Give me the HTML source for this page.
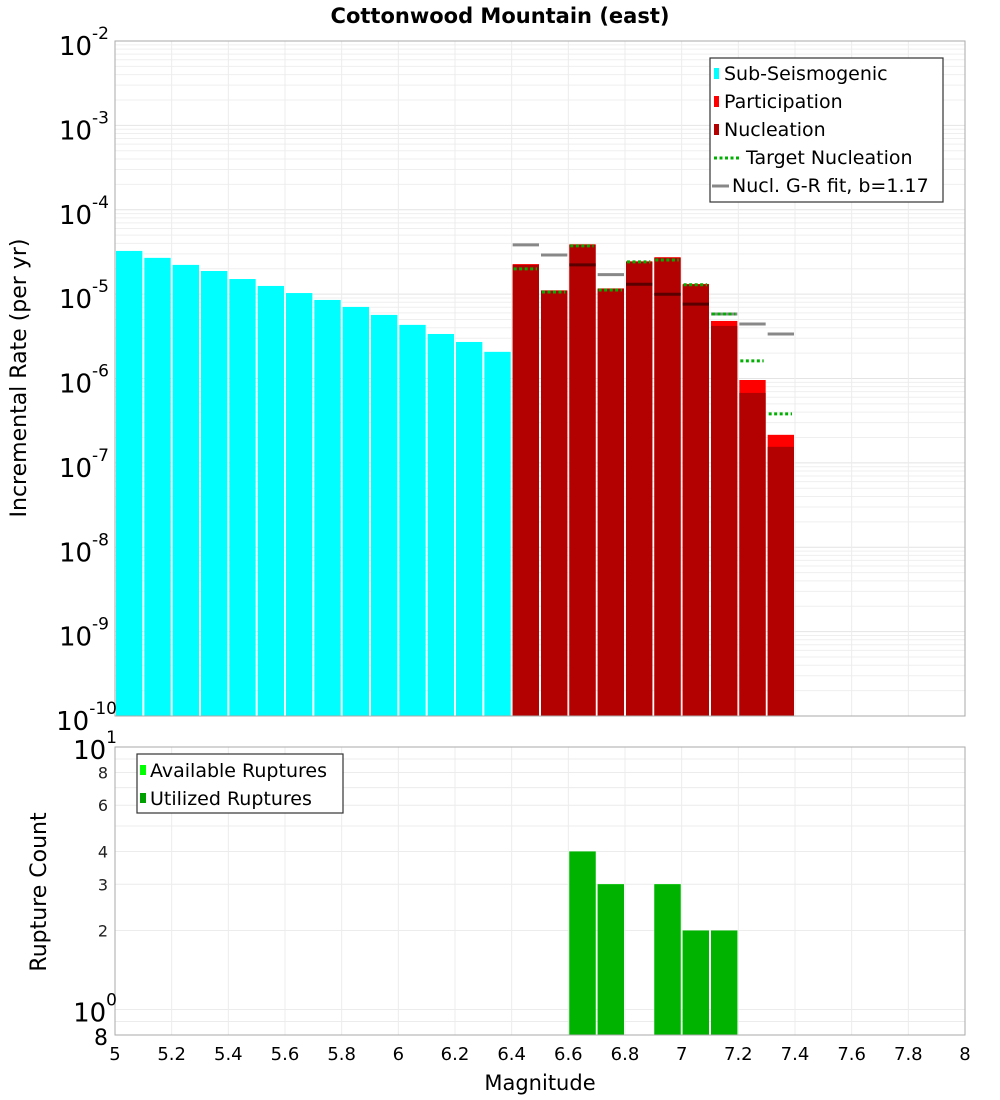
<!DOCTYPE html>
<html><head><meta charset="utf-8"><style>
body{margin:0;background:#fff;font-family:"Liberation Sans","DejaVu Sans",sans-serif;}
svg{display:block}
text{font-family:"DejaVu Sans","Liberation Sans",sans-serif;}
</style></head><body>
<svg id="c" width="1000" height="1100"></svg>
<script>
const mags=[5.0,5.1,5.2,5.3,5.4,5.5,5.6,5.7,5.8,5.9,6.0,6.1,6.2,6.3];
const subSeis=[3.25e-5,2.69e-5,2.22e-5,1.88e-5,1.51e-5,1.25e-5,1.03e-5,8.53e-6,7.05e-6,5.67e-6,4.32e-6,3.37e-6,2.71e-6,2.07e-6];
const faultMags=[6.4,6.5,6.6,6.7,6.8,6.9,7.0,7.1,7.2,7.3];
const participation=[2.27e-5,1.11e-5,3.9e-5,1.17e-5,2.45e-5,2.74e-5,1.32e-5,4.81e-6,9.6e-7,2.15e-7];
const nucleation=[2.22e-5,1.09e-5,3.83e-5,1.15e-5,2.41e-5,2.69e-5,1.29e-5,4.2e-6,6.75e-7,1.55e-7];
const targetNucl=[1.99e-5,1.06e-5,3.73e-5,1.12e-5,2.41e-5,2.54e-5,1.29e-5,5.82e-6,1.62e-6,3.81e-7];
const grFit=[3.83e-5,2.91e-5,2.22e-5,1.70e-5,1.31e-5,9.97e-6,7.6e-6,5.82e-6,4.43e-6,3.37e-6];
const countMags=[6.6,6.7,6.9,7.0,7.1];
const availCounts=[4,3,3,2,2];
const usedCounts=[4,3,3,2,2];
const xTicks=[5,5.2,5.4,5.6,5.8,6,6.2,6.4,6.6,6.8,7,7.2,7.4,7.6,7.8,8];
const xTickLabels=["5","5.2","5.4","5.6","5.8","6","6.2","6.4","6.6","6.8","7","7.2","7.4","7.6","7.8","8"];
const yDecades=[-2,-3,-4,-5,-6,-7,-8,-9,-10];
const countTicks=[2,3,4,6,8];

const NS="http://www.w3.org/2000/svg";
const svg=document.getElementById('c');
function el(tag,attrs,parent){const e=document.createElementNS(NS,tag);for(const k in attrs)e.setAttribute(k,attrs[k]);(parent||svg).appendChild(e);return e;}
const L=115,R=965,T=41,B=716,T2=747,B2=1035;
const X=m=>L+(m-5)/3*(R-L);
const Y=v=>T+(-2-Math.log10(v))*(B-T)/8;
const dec2=262.5;
const Y2=v=>T2+(1-Math.log10(v))*dec2;

// grids top
for(let d=-10;d<-2;d++){for(let k=1;k<10;k++){const y=Y(k*Math.pow(10,d));const g=el('line',{x1:L,x2:R,y1:y,y2:y,stroke:k==1?'#e4e4e4':'#efefef','stroke-width':1});

}}
xTicks.forEach(m=>{const g=el('line',{x1:X(m),x2:X(m),y1:T,y2:B,stroke:'#ececec'});


const g2=el('line',{x1:X(m),x2:X(m),y1:T2,y2:B2,stroke:'#ececec'});

});
[0.8,0.9,1,2,3,4,5,6,7,8,9].forEach(v=>{const y=Y2(v);const g=el('line',{x1:L,x2:R,y1:y,y2:y,stroke:'#ececec'});

});

const bw=(R-L)/30;
// cyan bars
mags.forEach((m,i)=>{const y=Y(subSeis[i]);const r=el('rect',{x:X(m)+1,y:y,width:bw-2,height:B-y,fill:'#00ffff'});

});
faultMags.forEach((m,i)=>{let y=Y(participation[i]);let r=el('rect',{x:X(m)+1,y:y,width:bw-2,height:B-y,fill:'#ff0000'});


y=Y(nucleation[i]);r=el('rect',{x:X(m)+1,y:y,width:bw-2,height:B-y,fill:'#b30000'});

});
faultMags.forEach((m,i)=>{let y=Y(grFit[i]);const over=grFit[i]<nucleation[i];let l=el('line',{x1:X(m)+1,x2:X(m)+bw-1,y1:y,y2:y,stroke:over?'#5a0000':'#888','stroke-width':3});


y=Y(targetNucl[i]);l=el('line',{x1:X(m)+2,x2:X(m)+bw-3,y1:y,y2:y,stroke:'#00b000','stroke-width':3,'stroke-dasharray':'3,2.5'});

});
// count bars
countMags.forEach((m,i)=>{let y=Y2(availCounts[i]);let r=el('rect',{x:X(m)+1,y:y,width:bw-2,height:B2-y,fill:'#00ff00'});


y=Y2(usedCounts[i]);r=el('rect',{x:X(m)+1,y:y,width:bw-2,height:B2-y,fill:'#00b300'});

});

// frames
let f=el('rect',{x:L,y:T,width:R-L,height:B-T,fill:'none',stroke:'#aaa'});

f=el('rect',{x:L,y:T2,width:R-L,height:B2-T2,fill:'none',stroke:'#aaa'});


// y tick labels top
yDecades.forEach(d=>{const t=el('text',{x:L-6,y:Y(Math.pow(10,d))+14,'text-anchor':'end','font-size':26,fill:'#000'});


t.innerHTML='10<tspan dy="-16" font-size="17">'+d+'</tspan>';
if(d==-10){t.setAttribute('x',L+2);}});
// bottom y labels
let t=el('text',{x:L+2,y:Y2(10)+12,'text-anchor':'end','font-size':26});

t.innerHTML='10<tspan dy="-16" font-size="17">1</tspan>';
t=el('text',{x:L+2,y:Y2(1)+12,'text-anchor':'end','font-size':26});

t.innerHTML='10<tspan dy="-16" font-size="17">0</tspan>';
t=el('text',{x:L-7,y:B2+10,'text-anchor':'end','font-size':22});
t.textContent='8';
countTicks.forEach(v=>{const t=el('text',{x:L-7,y:Y2(v)+6,'text-anchor':'end','font-size':16,fill:'#222'});


t.textContent=v;});
xTicks.forEach((m,i)=>{const t=el('text',{x:X(m),y:1060,'text-anchor':'middle','font-size':18});


t.textContent=xTickLabels[i];});

// titles
t=el('text',{x:500,y:23,'text-anchor':'middle','font-size':21,'font-weight':'bold'});t.textContent='Cottonwood Mountain (east)';

t=el('text',{x:540,y:1090,'text-anchor':'middle','font-size':21});t.textContent='Magnitude';

t=el('text',{x:0,y:0,'text-anchor':'middle','font-size':22,transform:'translate(26,378) rotate(-90)'});t.textContent='Incremental Rate (per yr)';

t=el('text',{x:0,y:0,'text-anchor':'middle','font-size':22,transform:'translate(46,892) rotate(-90)'});t.textContent='Rupture Count';


// legend top
const lg=el('g',{});
el('rect',{x:710,y:58,width:233,height:144,fill:'#fff',stroke:'#333','stroke-width':1.2},lg);
const items=[['Sub-Seismogenic','#00ffff','sq'],['Participation','#ff0000','sq'],['Nucleation','#b30000','sq'],['Target Nucleation','#00b000','dot'],['Nucl. G-R fit, b=1.17','#888','line']];
items.forEach((it,i)=>{const y=73+i*28;let s;
if(it[2]=='sq')s=el('rect',{x:714,y:y-5,width:5,height:11,fill:it[1]},lg);
else if(it[2]=='dot')s=el('line',{x1:714,x2:739,y1:y+1,y2:y+1,stroke:it[1],'stroke-width':3,'stroke-dasharray':'3,2.5'},lg);
else s=el('line',{x1:712,x2:729,y1:y+1,y2:y+1,stroke:it[1],'stroke-width':3},lg);


const tx=el('text',{x:it[2]=='sq'?724:(it[2]=='dot'?746:732),y:y+7,'font-size':19},lg);


tx.textContent=it[0];});
const lg2=el('g',{});
el('rect',{x:137,y:754,width:206,height:59,fill:'#fff',stroke:'#333','stroke-width':1.2},lg2);
[['Available Ruptures','#00ff00'],['Utilized Ruptures','#00a000']].forEach((it,i)=>{const y=770+i*28;
const s=el('rect',{x:140,y:y-5,width:6,height:10,fill:it[1]},lg2);


const tx=el('text',{x:150,y:y+7,'font-size':19},lg2);


tx.textContent=it[0];});
</script>
</body></html>
